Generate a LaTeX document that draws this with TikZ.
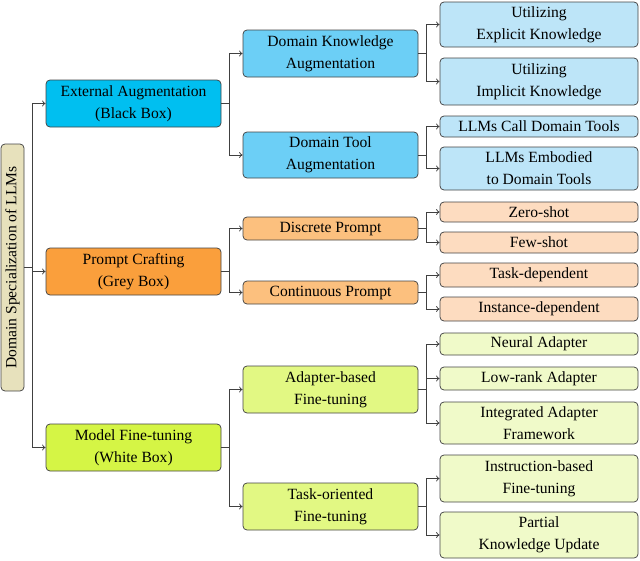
\documentclass[tikz,border=0pt]{standalone}
\usepackage{fontspec}
\setmainfont{Liberation Serif}
\usetikzlibrary{arrows.meta}
\definecolor{bord}{HTML}{454545}
\definecolor{linec}{HTML}{404040}
\definecolor{rootc}{HTML}{E7E1BC}
\definecolor{bA}{HTML}{00BFF0}
\definecolor{bB}{HTML}{6CCFF6}
\definecolor{bC}{HTML}{BDE5F8}
\definecolor{oA}{HTML}{FA9F3C}
\definecolor{oB}{HTML}{FCC07E}
\definecolor{oC}{HTML}{FDDCC0}
\definecolor{gA}{HTML}{D5F545}
\definecolor{gB}{HTML}{E2F883}
\definecolor{gC}{HTML}{F0FAC9}
\begin{document}
\begin{tikzpicture}[x=1pt,y=-1pt,
  box/.style={draw=bord, line width=0.75pt, rounded corners=4pt, align=center, inner sep=0pt, font=\fontsize{15.6}{22}\selectfont},
  lone/.style={box, minimum width=175pt},
  ltwo/.style={box, minimum width=175pt},
  lthree/.style={box, minimum width=198pt},
  conn/.style={draw=linec, line width=0.75pt, -{To[length=3.5pt,width=6pt]}},
  plain/.style={draw=linec, line width=0.75pt}]
\useasboundingbox (0,0) rectangle (640,560);
% root
\node[box, fill=rootc, rotate=90, minimum width=247pt, minimum height=23pt] (root) at (12.5,267.5) {Domain Specialization of LLMs};
% level 1
\node[lone, fill=bA, minimum height=47pt] (ea) at (133.5,103.5) {External Augmentation\\(Black Box)};
\node[lone, fill=oA, minimum height=47pt] (pc) at (133.5,271.5) {Prompt Crafting\\(Grey Box)};
\node[lone, fill=gA, minimum height=47pt] (mf) at (133.5,447.5) {Model Fine-tuning\\(White Box)};
% level 2
\node[ltwo, fill=bB, minimum height=47pt] (dka) at (330.5,53.5) {Domain Knowledge\\Augmentation};
\node[ltwo, fill=bB, minimum height=46pt] (dta) at (330.5,155) {Domain Tool\\Augmentation};
\node[ltwo, fill=oB, minimum height=23pt] (dp) at (330.5,228.5) {Discrete Prompt};
\node[ltwo, fill=oB, minimum height=23pt] (cp) at (330.5,292.5) {Continuous Prompt};
\node[ltwo, fill=gB, minimum height=47pt] (ab) at (330.5,389.5) {Adapter-based\\Fine-tuning};
\node[ltwo, fill=gB, minimum height=47pt] (to) at (330.5,506.5) {Task-oriented\\Fine-tuning};
% level 3
\node[lthree, fill=bC, minimum height=45pt] (ue) at (539,24.5) {Utilizing\\Explicit Knowledge};
\node[lthree, fill=bC, minimum height=47pt] (ui) at (539,81.5) {Utilizing\\Implicit Knowledge};
\node[lthree, fill=bC, minimum height=21pt] (lc) at (539,126.5) {LLMs Call Domain Tools};
\node[lthree, fill=bC, minimum height=43pt] (le) at (539,168.5) {LLMs Embodied\\to Domain Tools};
\node[lthree, fill=oC, minimum height=20pt] (zs) at (539,212) {Zero-shot};
\node[lthree, fill=oC, minimum height=21pt] (fs) at (539,242.5) {Few-shot};
\node[lthree, fill=oC, minimum height=24pt] (td) at (539,275) {Task-dependent};
\node[lthree, fill=oC, minimum height=24pt] (id) at (539,309) {Instance-dependent};
\node[lthree, fill=gC, minimum height=22pt] (na) at (539,344) {Neural Adapter};
\node[lthree, fill=gC, minimum height=23pt] (lr) at (539,378.5) {Low-rank Adapter};
\node[lthree, fill=gC, minimum height=42pt] (ia) at (539,423) {Integrated Adapter\\Framework};
\node[lthree, fill=gC, minimum height=47pt] (ib) at (539,478.5) {Instruction-based\\Fine-tuning};
\node[lthree, fill=gC, minimum height=46pt] (pk) at (539,535) {Partial\\Knowledge Update};
% connectors root -> level 1
\draw[plain] (root.south) -- ++(7.5,0) coordinate (j0);
\draw[conn] (j0) |- (ea.west);
\draw[conn] (j0) |- (pc.west);
\draw[conn] (j0) |- (mf.west);
% level 1 -> level 2
\foreach \p/\a/\b in {ea/dka/dta, pc/dp/cp, mf/ab/to}{
  \draw[conn] (\p.east) -- ++(8,0) |- (\a.west);
  \draw[conn] (\p.east) -- ++(8,0) |- (\b.west);
}
% level 2 -> level 3
\foreach \p/\c in {dka/ue, dka/ui, dta/lc, dta/le, dp/zs, dp/fs, cp/td, cp/id, ab/na, ab/lr, ab/ia, to/ib, to/pk}{
  \draw[conn] (\p.east) -- ++(8,0) |- (\c.west);
}
\end{tikzpicture}
\end{document}
